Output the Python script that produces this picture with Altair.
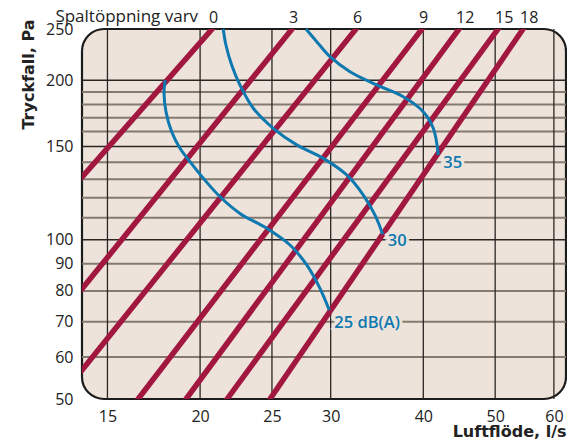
import altair as alt
import pandas as pd

# ---- data ----
setting_labels = ["0", "3", "6", "9", "12", "15", "18"]
line_x0 = [13.86, 13.86, 13.86, 16.50, 19.15, 21.75, 24.85]
line_y0 = [131.3, 80.7, 56.7, 50.0, 50.0, 50.0, 50.0]
line_x1 = [20.76, 26.61, 32.45, 39.83, 44.69, 50.44, 54.52]
line_y1 = [250.0, 250.0, 250.0, 250.0, 250.0, 250.0, 250.0]

c25_x = [17.95, 17.88, 17.99, 18.31, 18.79, 19.38, 20.20, 21.28, 22.63, 24.59, 26.44, 27.85, 29.02, 29.87]
c25_y = [200.0, 190.3, 174.5, 159.9, 148.8, 140.4, 130.6, 120.5, 112.1, 105.1, 97.7, 89.6, 80.9, 73.6]
c30_x = [21.49, 21.67, 22.06, 22.63, 23.59, 25.10, 27.00, 29.32, 31.53, 33.20, 34.43, 35.26]
c30_y = [250.0, 233.2, 213.8, 196.0, 177.1, 162.3, 151.0, 142.4, 132.5, 121.4, 111.3, 102.4]
c35_x = [27.79, 28.73, 29.94, 31.86, 34.61, 37.58, 39.99, 41.26, 41.91]
c35_y = [250.0, 236.6, 221.6, 207.6, 196.0, 186.2, 174.5, 162.3, 144.5]

db_labels = ["25 dB(A)", "30", "35"]
db_label_x = [29.87, 35.26, 41.91]
db_label_y = [70, 100, 140]

x_ticks = [15, 20, 25, 30, 40, 50, 60]
y_ticks = [50, 60, 70, 80, 90, 100, 150, 200, 250]
grid_y_dark = [100, 150, 200]
grid_y_grey = [60, 70, 80, 90, 110, 120, 130, 140, 160, 170, 180, 190]
grid_x = [15, 20, 25, 30, 40, 50, 60]

top_title = "Spaltöppning varv"
x_title = "Luftflöde, l/s"
y_title = "Tryckfall, Pa"

# ---- styling ----
BG = "#ede3da"
RED = "#a1173f"
BLUE = "#0e78b0"
TXT = "#222222"
FONT = "Open Sans"
TFONT = "DejaVu Sans"

# ---- tables ----
lines_rows = []
for i, s in enumerate(setting_labels):
    lines_rows.append({"set": s, "o": 0, "x": line_x0[i], "y": line_y0[i]})
    lines_rows.append({"set": s, "o": 1, "x": line_x1[i], "y": line_y1[i]})
lines_df = pd.DataFrame(lines_rows)

curve_rows = []
for name, xs, ys in (("25", c25_x, c25_y), ("30", c30_x, c30_y), ("35", c35_x, c35_y)):
    for k, (xv, yv) in enumerate(zip(xs, ys)):
        curve_rows.append({"c": name, "o": k, "x": xv, "y": yv})
curve_df = pd.DataFrame(curve_rows)

top_df = pd.DataFrame({"t": setting_labels, "x": line_x1, "y": line_y1})
top_title_df = pd.DataFrame({"t": [top_title], "x": [line_x1[0]], "y": [250.0]})
db_df = pd.DataFrame({"t": db_labels, "x": db_label_x, "y": db_label_y})
gdark_df = pd.DataFrame({"y": grid_y_dark})
ggrey_df = pd.DataFrame({"y": grid_y_grey})
gx_df = pd.DataFrame({"x": grid_x})

x_scale = alt.Scale(type="log", domain=[13.86, 62.3], nice=False)
y_scale = alt.Scale(type="log", domain=[50, 250], nice=False)

x_axis = alt.Axis(
    values=x_ticks, grid=False, ticks=False, domain=False, labelFlush=False,
    labelPadding=9, labelFont=FONT, labelFontSize=16, labelColor=TXT,
    title=x_title, titleFont=TFONT, titleFontSize=16, titleFontWeight="bold",
    titleColor=TXT, titleAnchor="end", titleAlign="right", titleX=484, titleY=37,
    titleBaseline="alphabetic",
)
y_axis = alt.Axis(
    values=y_ticks, grid=False, ticks=False, domain=False, labelFlush=False,
    labelPadding=9, labelFont=FONT, labelFontSize=16, labelColor=TXT,
    title=y_title, titleFont=TFONT, titleFontSize=16, titleFontWeight="bold",
    titleColor=TXT, titleAngle=270, titleAlign="right", titleX=-49, titleY=-10,
    titleBaseline="alphabetic",
)

X = alt.X("x:Q", scale=x_scale, axis=x_axis)
Y = alt.Y("y:Q", scale=y_scale, axis=y_axis)

grey_grid = alt.Chart(ggrey_df).mark_rule(color="#847a72", strokeWidth=2).encode(y=Y)
dark_grid = alt.Chart(gdark_df).mark_rule(color="#2a2624", strokeWidth=1.5).encode(y=Y)
vert_grid = alt.Chart(gx_df).mark_rule(color="#2a2624", strokeWidth=1.3).encode(x=X)

red_lines = alt.Chart(lines_df).mark_line(
    color=RED, strokeWidth=5.5, strokeCap="square", clip=True
).encode(x=X, y=Y, detail="set:N", order="o:Q")

blue_curves = alt.Chart(curve_df).mark_line(
    color=BLUE, strokeWidth=3, interpolate="catmull-rom"
).encode(x=X, y=Y, detail="c:N", order="o:Q")

db_halo = alt.Chart(db_df).mark_text(
    align="left", baseline="middle", dx=5, dy=1, font=FONT, fontSize=16.5, fontWeight=600,
    color=BG, stroke=BG, strokeWidth=6
).encode(x=X, y=Y, text="t:N")
db_text = alt.Chart(db_df).mark_text(
    align="left", baseline="middle", dx=5, dy=1, font=FONT, fontSize=16.5, fontWeight=600,
    color=BLUE
).encode(x=X, y=Y, text="t:N")

top_text = alt.Chart(top_df).mark_text(
    align="left", baseline="middle", dx=-3, dy=-11, font=FONT, fontSize=16, color=TXT
).encode(x=X, y=Y, text="t:N")
top_title_text = alt.Chart(top_title_df).mark_text(
    align="right", baseline="middle", dx=-14, dy=-12, font=FONT, fontSize=17, color=TXT
).encode(x=X, y=Y, text="t:N")

chart = alt.layer(
    grey_grid, dark_grid, vert_grid, red_lines, blue_curves,
    db_halo, db_text, top_text, top_title_text
).properties(
    width=484, height=370,
    padding={"left": 74, "top": 21, "right": 1, "bottom": 41},
    autosize=alt.AutoSizeParams(type="none"),
).configure_view(
    fill=BG, stroke="#1c1c1c", strokeWidth=2.2, cornerRadius=22
)

chart.save("out.html", embed_options={"renderer": "svg", "actions": False})
